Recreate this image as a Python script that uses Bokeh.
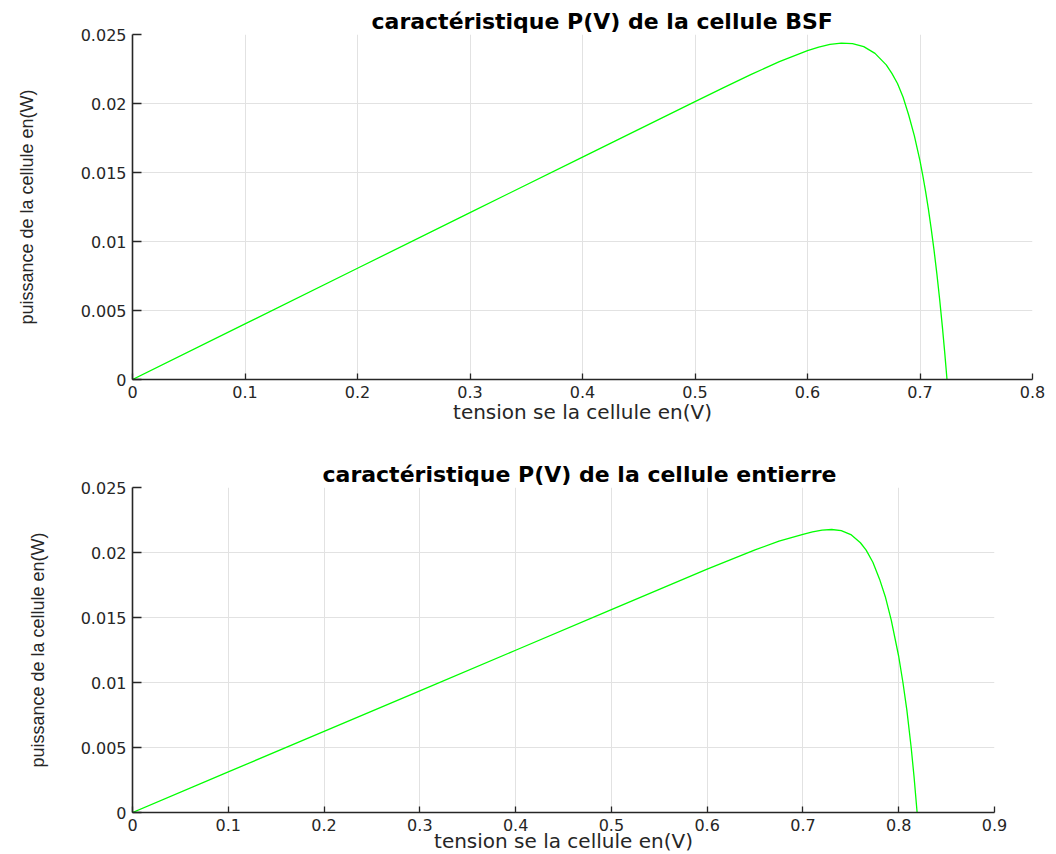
from bokeh.plotting import figure
from bokeh.layouts import column
from bokeh.models import FixedTicker
from bokeh.embed import file_html
from bokeh.resources import INLINE

# ---- data ----
v_bsf = [0, 0.1, 0.2, 0.3, 0.4, 0.45, 0.5, 0.525, 0.55, 0.575, 0.6, 0.61, 0.62, 0.63,
         0.64, 0.65, 0.66, 0.67, 0.675, 0.68, 0.685, 0.69, 0.695, 0.7, 0.7025, 0.705,
         0.7075, 0.71, 0.7125, 0.715, 0.7175, 0.72, 0.722, 0.724]
p_bsf = [0, 0.00403, 0.00806, 0.01209, 0.01612, 0.01813, 0.02014, 0.02113, 0.02211,
         0.02303, 0.02383, 0.02409, 0.02428, 0.02437, 0.02434, 0.02412, 0.02363, 0.02280,
         0.02218, 0.02145, 0.02045, 0.01915, 0.01765, 0.01585, 0.01478, 0.01362, 0.01233,
         0.01090, 0.00936, 0.00765, 0.00578, 0.00372, 0.00193, 0.0]

v_ent = [0, 0.1, 0.2, 0.3, 0.4, 0.5, 0.55, 0.6, 0.65, 0.675, 0.7, 0.71, 0.72, 0.73, 0.74,
         0.75, 0.76, 0.766, 0.773, 0.78, 0.786, 0.7922, 0.8, 0.8044, 0.8085, 0.813, 0.816,
         0.8192]
p_ent = [0, 0.00312, 0.00624, 0.00936, 0.01248, 0.0156, 0.01716, 0.01872, 0.02020,
         0.02088, 0.02140, 0.02158, 0.02172, 0.02177, 0.02168, 0.02138, 0.02075, 0.02018,
         0.01925, 0.01795, 0.01660, 0.01480, 0.01200, 0.01000, 0.00787, 0.00500, 0.00275,
         0.0]

x_ticks_1 = [0, 0.1, 0.2, 0.3, 0.4, 0.5, 0.6, 0.7, 0.8]
x_labels_1 = ["0", "0.1", "0.2", "0.3", "0.4", "0.5", "0.6", "0.7", "0.8"]
x_ticks_2 = [0, 0.1, 0.2, 0.3, 0.4, 0.5, 0.6, 0.7, 0.8, 0.9]
x_labels_2 = ["0", "0.1", "0.2", "0.3", "0.4", "0.5", "0.6", "0.7", "0.8", "0.9"]
y_ticks = [0, 0.005, 0.01, 0.015, 0.02, 0.025]
y_labels = ["0", "0.005", "0.01", "0.015", "0.02", "0.025"]

title_1 = "caractéristique P(V) de la cellule BSF"
title_2 = "caractéristique P(V) de la cellule entierre"
xlabel = "tension se la cellule en(V)"
ylabel = "puissance de la cellule en(W)"

AX = "#262626"


def make_fig(title, xs, ys, xmax, xt, xl, fw, fh, left, top, bottom, right,
             ylab_standoff, xlab_standoff, title_offset):
    p = figure(frame_width=fw, frame_height=fh, x_range=(0, xmax), y_range=(0, 0.025),
               output_backend="svg", toolbar_location=None,
               min_border_left=left, min_border_top=top, min_border_bottom=bottom,
               min_border_right=right, background_fill_color="white",
               border_fill_color="white")
    p.outline_line_color = None

    p.title.text = title
    p.title.text_font = "DejaVu Sans"
    p.title.text_font_style = "bold"
    p.title.text_font_size = "22px"
    p.title.text_color = "black"
    p.title.align = "left"
    p.title.offset = title_offset
    p.title.standoff = 1

    p.xaxis.ticker = FixedTicker(ticks=xt)
    p.xaxis.major_label_overrides = {t: l for t, l in zip(xt, xl)}
    p.yaxis.ticker = FixedTicker(ticks=y_ticks)
    p.yaxis.major_label_overrides = {t: l for t, l in zip(y_ticks, y_labels)}

    for ax in p.axis:
        ax.axis_line_color = AX
        ax.axis_line_width = 1.6
        ax.major_tick_line_color = AX
        ax.major_tick_line_width = 1.3
        ax.major_tick_out = 0
        ax.minor_tick_line_color = None
        ax.major_label_text_font = "DejaVu Sans"
        ax.major_label_text_font_size = "16px"
        ax.major_label_text_color = AX
        ax.axis_label_text_color = AX
        ax.axis_label_text_font_style = "normal"

    p.xaxis.major_tick_in = 6
    p.yaxis.major_tick_in = 9
    p.xaxis.axis_label = xlabel
    p.xaxis.axis_label_text_font = "DejaVu Sans"
    p.xaxis.axis_label_text_font_size = "20px"
    p.xaxis.major_label_standoff = 6
    p.xaxis.axis_label_standoff = xlab_standoff
    p.yaxis.axis_label = ylabel
    p.yaxis.axis_label_text_font = "Liberation Sans"
    p.yaxis.axis_label_text_font_size = "18px"
    p.yaxis.major_label_standoff = 6
    p.yaxis.axis_label_standoff = ylab_standoff

    p.grid.grid_line_color = "#e2e2e2"
    p.grid.grid_line_width = 1

    p.line(xs, ys, line_color="#00ff00", line_width=1.3)
    return p


p1 = make_fig(title_1, v_bsf, p_bsf, 0.8, x_ticks_1, x_labels_1,
              900, 345, 132, 34, 61, 24, 41, -1, 239)
p2 = make_fig(title_2, v_ent, p_ent, 0.9, x_ticks_2, x_labels_2,
              862, 325, 132, 47, 42, 62, 30, -5, 190)

layout = column(p1, p2, spacing=0)
open("out.html", "w").write(file_html(layout, INLINE))
